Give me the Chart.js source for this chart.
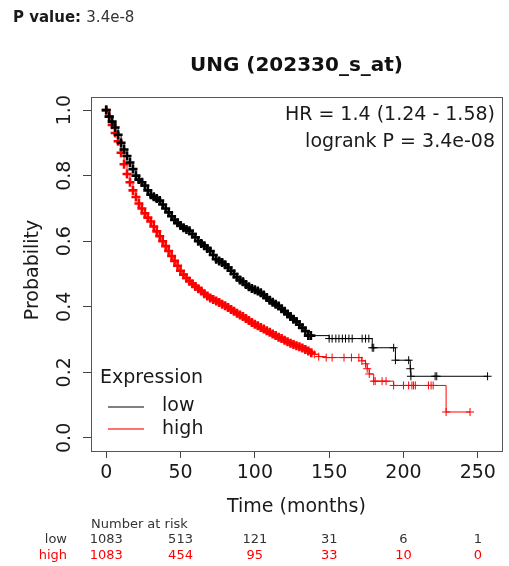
<!DOCTYPE html>
<html>
<head>
<meta charset="utf-8">
<script src="https://cdn.jsdelivr.net/npm/chart.js@4"></script>
<style>
  body { margin: 0; background: #fff; }
</style>
</head>
<body>
<canvas id="myChart" width="509" height="566"></canvas>
<script>
// Kaplan-Meier curves (time in months, survival probability)
var lowTime = [0, 2, 4, 6, 8, 10, 12, 14, 16, 18, 20, 22, 24, 26, 28, 30, 32, 34, 36, 38, 40, 42, 44, 46, 48, 50,
    52, 54, 56, 58, 60, 62, 64, 66, 68, 70, 72, 74, 76, 78, 80, 82, 84, 86, 88, 90, 92, 94, 96, 98, 100,
    102, 104, 106, 108, 110, 112, 114, 116, 118, 120, 122, 124, 126, 128, 130, 132, 134, 136, 137.7,
    150, 152, 154.5, 156.6, 158.9, 161, 163.3, 165.5, 172.2, 174.5, 176.7, 179, 180, 193.4,
    194.6, 203.5, 204.6, 205, 221.3, 222.4, 256.6];
var lowSurv = [1.0, 0.98, 0.965, 0.947, 0.925, 0.90, 0.88, 0.86, 0.84, 0.82, 0.80, 0.788, 0.78, 0.77, 0.755, 0.742,
    0.736, 0.73, 0.724, 0.712, 0.70, 0.688, 0.676, 0.665, 0.656, 0.648, 0.641, 0.636, 0.632, 0.622, 0.612,
    0.60, 0.593, 0.586, 0.578, 0.57, 0.558, 0.545, 0.54, 0.535, 0.528, 0.52, 0.51, 0.50, 0.49, 0.482,
    0.476, 0.468, 0.461, 0.456, 0.452, 0.448, 0.443, 0.436, 0.428, 0.42, 0.414, 0.408, 0.402, 0.394, 0.386,
    0.378, 0.37, 0.362, 0.355, 0.345, 0.336, 0.326, 0.312, 0.312,
    0.303, 0.303, 0.303, 0.303, 0.303, 0.303, 0.303, 0.303, 0.303, 0.303, 0.303, 0.275, 0.275, 0.275,
    0.237, 0.237, 0.211, 0.188, 0.188, 0.188, 0.188];

var highTime = [0, 2, 4, 6, 8, 10, 12, 14, 16, 18, 20, 22, 24, 26, 28, 30, 32, 34, 36, 38, 40, 42, 44, 46, 48, 50,
    52, 54, 56, 58, 60, 62, 64, 66, 68, 70, 72, 74, 76, 78, 80, 82, 84, 86, 88, 90, 92, 94, 96, 98, 100,
    102, 104, 106, 108, 110, 112, 114, 116, 118, 120, 122, 124, 126, 128, 130, 132, 134, 136, 138, 140, 143,
    148, 152, 160, 165, 170, 172, 174.5, 175.6, 177, 180, 181, 185.6, 188.3, 193.4,
    200, 203.5, 205.7, 206.8, 208, 216.8, 218.6, 220, 228.7, 244.8];
var highSurv = [1.0, 0.98, 0.955, 0.93, 0.905, 0.87, 0.835, 0.805, 0.78, 0.755, 0.735, 0.715, 0.70, 0.685, 0.672, 0.66,
    0.645, 0.63, 0.615, 0.60, 0.585, 0.57, 0.555, 0.54, 0.525, 0.51, 0.498, 0.488, 0.478, 0.47, 0.462,
    0.455, 0.448, 0.44, 0.433, 0.427, 0.422, 0.418, 0.413, 0.408, 0.403, 0.398, 0.392, 0.386, 0.38, 0.375,
    0.37, 0.364, 0.358, 0.352, 0.347, 0.342, 0.337, 0.332, 0.327, 0.322, 0.317, 0.312, 0.307, 0.303, 0.298,
    0.293, 0.289, 0.285, 0.281, 0.278, 0.274, 0.27, 0.265, 0.26, 0.255, 0.248,
    0.245, 0.245, 0.245, 0.245, 0.245, 0.235, 0.226, 0.211, 0.195, 0.173, 0.173, 0.173, 0.173, 0.16,
    0.16, 0.16, 0.16, 0.16, 0.16, 0.16, 0.16, 0.16, 0.079, 0.079];

var xTicks = [0, 50, 100, 150, 200, 250];
var yTicks = [0, 0.2, 0.4, 0.6, 0.8, 1.0];

// number at risk table
var riskTimes = [0, 50, 100, 150, 200, 250];
var riskLow = [1083, 513, 121, 31, 6, 1];
var riskHigh = [1083, 454, 95, 33, 10, 0];

var lowColor = "#000000";
var highColor = "#ff0000";
var font = "'DejaVu Sans', sans-serif";

function toPoints(times, surv) {
    var pts = [];
    for (var i = 0; i < times.length; i++) {
        pts.push({ x: times[i], y: surv[i] });
    }
    return pts;
}

// draws the R-style texts, box, legend and risk table
var decorPlugin = {
    id: "decor",
    afterDraw: function (chart) {
        var ctx = chart.ctx;
        var ca = chart.chartArea;
        var xs = chart.scales.x;
        var ys = chart.scales.y;
        ctx.save();

        // box
        ctx.strokeStyle = "#555";
        ctx.lineWidth = 1;
        ctx.strokeRect(Math.round(ca.left) + 0.5, Math.round(ca.top) + 0.5,
            Math.round(ca.right - ca.left), Math.round(ca.bottom - ca.top));

        // header
        ctx.fillStyle = "#1a1a1a";
        ctx.textBaseline = "middle";
        ctx.textAlign = "left";
        ctx.font = "bold 15px " + font;
        ctx.fillText("P value:", 13, 18);
        var w = ctx.measureText("P value: ").width;
        ctx.font = "15px " + font;
        ctx.fillStyle = "#333";
        ctx.fillText("3.4e-8", 13 + w, 18);

        // title
        ctx.fillStyle = "#111";
        ctx.textAlign = "center";
        ctx.font = "bold 20px " + font;
        ctx.fillText("UNG (202330_s_at)", (ca.left + ca.right) / 2, 66);

        // x tick labels
        ctx.font = "19px " + font;
        ctx.fillStyle = "#1a1a1a";
        for (var i = 0; i < xTicks.length; i++) {
            ctx.fillText(String(xTicks[i]), xs.getPixelForValue(xTicks[i]), 473);
        }
        ctx.fillText("Time (months)", (ca.left + ca.right) / 2, 507);

        // y tick labels, rotated like R
        for (var j = 0; j < yTicks.length; j++) {
            ctx.save();
            ctx.translate(65, ys.getPixelForValue(yTicks[j]));
            ctx.rotate(-Math.PI / 2);
            ctx.fillText(yTicks[j].toFixed(1), 0, 0);
            ctx.restore();
        }
        ctx.save();
        ctx.translate(33, (ca.top + ca.bottom) / 2 - 4);
        ctx.rotate(-Math.PI / 2);
        ctx.fillText("Probability", 0, 0);
        ctx.restore();

        // HR text
        ctx.textAlign = "right";
        ctx.fillText("HR = 1.4 (1.24 - 1.58)", 495, 115);
        ctx.fillText("logrank P = 3.4e-08", 495, 142);

        // legend
        ctx.textAlign = "left";
        ctx.fillText("Expression", 100, 378);
        ctx.fillText("low", 162, 406);
        ctx.fillText("high", 162, 429);
        ctx.lineWidth = 2;
        ctx.strokeStyle = "#808080";
        ctx.beginPath();
        ctx.moveTo(108, 407);
        ctx.lineTo(144, 407);
        ctx.stroke();
        ctx.strokeStyle = "#ff7070";
        ctx.beginPath();
        ctx.moveTo(108, 429);
        ctx.lineTo(144, 429);
        ctx.stroke();

        // number at risk
        ctx.font = "13px " + font;
        ctx.fillStyle = "#333";
        ctx.fillText("Number at risk", 91, 525);
        ctx.textAlign = "right";
        ctx.fillText("low", 67, 540);
        ctx.fillStyle = highColor;
        ctx.fillText("high", 67, 556);
        ctx.textAlign = "center";
        for (var k = 0; k < riskTimes.length; k++) {
            var px = xs.getPixelForValue(riskTimes[k]);
            ctx.fillStyle = "#333";
            ctx.fillText(String(riskLow[k]), px, 540);
            ctx.fillStyle = highColor;
            ctx.fillText(String(riskHigh[k]), px, 556);
        }
        ctx.restore();
    }
};

// dense censor marks in the early part, thinner ones in the sparse tail
function markWidth(ctx) {
    return ctx.raw && ctx.raw.x < 140 ? 2.6 : 1;
}
function markSize(ctx) {
    return ctx.raw && ctx.raw.x < 140 ? 4.5 : 4;
}

var config = {
    type: "line",
    data: {
        datasets: [
            {
                label: "low",
                data: toPoints(lowTime, lowSurv),
                borderColor: lowColor,
                borderWidth: 1,
                stepped: true,
                pointStyle: "cross",
                pointRadius: markSize,
                pointBorderColor: lowColor,
                pointBorderWidth: markWidth,
            },
            {
                label: "high",
                data: toPoints(highTime, highSurv),
                borderColor: highColor,
                borderWidth: 1,
                stepped: true,
                pointStyle: "cross",
                pointRadius: markSize,
                pointBorderColor: highColor,
                pointBorderWidth: markWidth,
            },
        ],
    },
    options: {
        responsive: false,
        animation: false,
        layout: { padding: { top: 97, right: 6, left: 0, bottom: 0 } },
        plugins: {
            legend: { display: false },
            tooltip: { enabled: false },
        },
        scales: {
            x: {
                type: "linear",
                min: -10.24,
                max: 266.24,
                afterBuildTicks: function (s) {
                    s.ticks = xTicks.map(function (v) { return { value: v }; });
                },
                afterFit: function (s) { s.height = 115; },
                ticks: { display: false },
                grid: { display: true, drawOnChartArea: false, drawTicks: true, tickLength: 7, color: "#444" },
                border: { display: false },
            },
            y: {
                type: "linear",
                min: -0.04,
                max: 1.04,
                afterBuildTicks: function (s) {
                    s.ticks = yTicks.map(function (v) { return { value: v }; });
                },
                afterFit: function (s) { s.width = 91; },
                ticks: { display: false },
                grid: { display: true, drawOnChartArea: false, drawTicks: true, tickLength: 8, color: "#444" },
                border: { display: false },
            },
        },
    },
    plugins: [decorPlugin],
};

var myChart = new Chart(document.getElementById("myChart"), config);
</script>
</body>
</html>
